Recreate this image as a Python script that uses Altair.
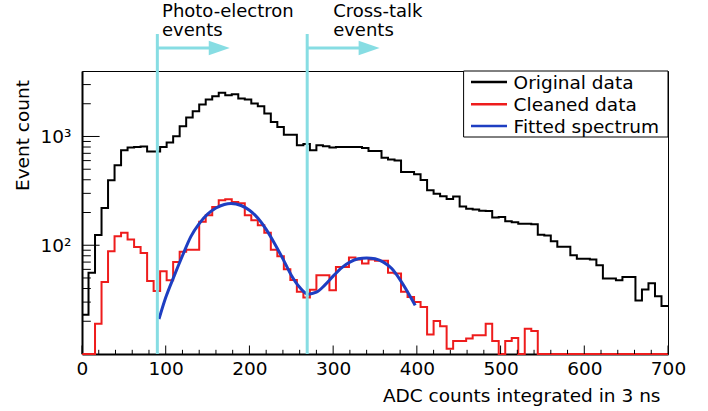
import altair as alt
import pandas as pd

# ---------------- data ----------------
X_MIN, X_MAX, N_BINS = 0, 700, 90
Y_MIN, Y_MAX = 10, 4000

original = [
    23, 56, 124, 220, 396, 545, 748, 792, 802, 809,
    728, 728, 802, 880, 1006, 1240, 1495, 1709, 1970, 2190,
    2348, 2518, 2399, 2450, 2237, 2190, 2012, 1900, 1628, 1362,
    1225, 1040, 1040, 832, 855, 748, 832, 814, 792, 802,
    802, 802, 802, 785, 737, 737, 638, 614, 600, 472,
    472, 450, 397, 321, 298, 282, 266, 280, 227, 216,
    213, 208, 206, 180, 182, 166, 163, 158, 158, 156,
    125, 123, 109, 97, 97, 81, 75, 75, 74, 65.5,
    49.4, 49.4, 47.6, 51.1, 51.1, 31, 39.1, 44.7, 34, 27.7,
]

cleaned = [
    0, 0, 19, 46, 88, 121, 130, 113, 96.5, 85,
    47, 38, 57.7, 47.7, 70, 87, 91, 91, 164, 189,
    225, 259, 265, 250, 243, 189, 170, 153, 130, 91,
    79, 60, 48, 37.4, 33, 39, 53, 53, 38.6, 63,
    63, 77, 74, 68, 74, 72, 72, 56, 55, 37.4,
    33.5, 30, 27, 15.1, 20.1, 18, 11.2, 13.2, 13.2, 13.9,
    14.9, 14.9, 19, 13.2, 0, 13.2, 14, 0, 17.1, 16.3,
    0, 0, 0, 0, 0, 0, 0, 0, 0, 0,
    0, 0, 0, 0, 0, 0, 0, 0, 0, 0,
]

fit_x = [92, 100, 110, 120, 130, 140, 150, 160, 170, 178, 190, 200, 210, 220,
         230, 240, 250, 260, 270, 280, 290, 300, 310, 320, 330, 340, 350, 360,
         370, 380, 390, 398]
fit_y = [21, 33, 52, 80, 120, 158, 193, 220, 237, 242, 232, 210, 178, 140,
         104, 75, 53, 41, 35.5, 37, 43, 52, 62, 70, 75, 76.5, 75, 70,
         61, 48, 36, 28]

cut_x = [90, 269]
arrow_tip = [176.5, 355.5]
ann_text = ["Photo-electron\nevents", "Cross-talk\nevents"]
ann_x = [95.6, 300]

legend_labels = ["Original data", "Cleaned data", "Fitted spectrum"]
legend_colors = ["#000000", "#ee1c1c", "#1e3ec2"]

x_title = "ADC counts integrated in 3 ns"
y_title = "Event count"

x_major = list(range(0, 701, 100))
x_minor = [v for v in range(20, 700, 20) if v % 100]
y_major = [100, 1000]
y_minor = [m * d for d in (10, 100, 1000) for m in range(2, 10) if m * d < Y_MAX]

# ---------------- styles / layout ----------------
W, H = 586, 283
FONT = "DejaVu Sans"
FS = 18.5
CYAN = "#87dde3"
BLACK, RED, BLUE = legend_colors

edges = [X_MIN + i * (X_MAX - X_MIN) / N_BINS for i in range(N_BINS + 1)]


def hist_df(values):
    vals = list(values) + [values[-1]]
    return pd.DataFrame({"x": edges, "y": [v if v > 0 else 1 for v in vals]})


xs = alt.Scale(domain=[X_MIN, X_MAX], nice=False, zero=False)
ys = alt.Scale(type="log", domain=[Y_MIN, Y_MAX], clamp=True, nice=False)

x_axis = alt.Axis(values=x_major, title=None, ticks=False, grid=False,
                  domain=True, domainColor="black", domainWidth=2,
                  labelFont=FONT, labelFontSize=FS, labelColor="black",
                  labelPadding=5, format="d", labelFlush=False)
y_axis = alt.Axis(values=y_major, title=None, ticks=False, grid=False,
                  domain=True, domainColor="black", domainWidth=2,
                  labelFont=FONT, labelFontSize=FS, labelColor="black",
                  labelPadding=11,
                  labelExpr="datum.value == 100 ? '10\u00b2' : '10\u00b3'")

X = lambda f="x": alt.X(f + ":Q", scale=xs, axis=x_axis)
Y = lambda f="y": alt.Y(f + ":Q", scale=ys, axis=y_axis)

black = alt.Chart(hist_df(original)).mark_line(
    interpolate="step-after", color=BLACK, strokeWidth=2
).encode(x=X(), y=Y())

red = alt.Chart(hist_df(cleaned)).mark_line(
    interpolate="step-after", color=RED, strokeWidth=2
).encode(x=X(), y=Y())

blue = alt.Chart(pd.DataFrame({"x": fit_x, "y": fit_y})).mark_line(
    interpolate="monotone", color=BLUE, strokeWidth=3
).encode(x=X(), y=Y())

# inward ticks
xt_major = alt.Chart(pd.DataFrame({"x": x_major})).mark_rule(color="black", strokeWidth=1).encode(
    x=X(), y=alt.value(H), y2=alt.value(H - 8.5))
xt_minor = alt.Chart(pd.DataFrame({"x": x_minor})).mark_rule(color="black", strokeWidth=1).encode(
    x=X(), y=alt.value(H), y2=alt.value(H - 4.2))
yt_major = alt.Chart(pd.DataFrame({"y": y_major})).mark_rule(color="black", strokeWidth=1).encode(
    y=Y(), x=alt.value(0), x2=alt.value(17.6))
yt_minor = alt.Chart(pd.DataFrame({"y": y_minor})).mark_rule(color="black", strokeWidth=1).encode(
    y=Y(), x=alt.value(0), x2=alt.value(8.8))

# cut lines and arrows
cuts = alt.Chart(pd.DataFrame({"x": cut_x})).mark_rule(color=CYAN, strokeWidth=3).encode(
    x=X(), y=alt.value(-37), y2=alt.value(H))
shafts = alt.Chart(pd.DataFrame({"x": cut_x, "x2": [t - 12 for t in arrow_tip]})).mark_rule(
    color=CYAN, strokeWidth=3
).encode(x=X(), x2="x2:Q", y=alt.value(-23))
heads = alt.Chart(pd.DataFrame({"x": arrow_tip})).mark_point(
    shape="M-2,-0.7L0,0L-2,0.7Z", size=441, filled=True, color=CYAN, opacity=1, strokeWidth=0
).encode(x=X(), y=alt.value(-23))

ann = alt.Chart(pd.DataFrame({"x": ann_x, "t": ann_text})).mark_text(
    align="left", baseline="alphabetic", font=FONT, fontSize=18, color="black",
    lineBreak="\n", lineHeight=19.5
).encode(x=X(), y=alt.value(-54.5), text="t:N")

# axis titles
xtitle = alt.Chart(pd.DataFrame({"t": [x_title]})).mark_text(
    align="right", baseline="alphabetic", font=FONT, fontSize=FS, color="black"
).encode(x=alt.value(578.5), y=alt.value(331), text="t:N")
ytitle = alt.Chart(pd.DataFrame({"t": [y_title]})).mark_text(
    align="center", baseline="alphabetic", font=FONT, fontSize=FS, color="black", angle=270
).encode(x=alt.value(-53.5), y=alt.value(64.5), text="t:N")

# legend
leg_layers = [
    alt.Chart(pd.DataFrame({"a": [0]})).mark_rect(fill="white", stroke="black", strokeWidth=1).encode(
        x=alt.value(381.6), x2=alt.value(W), y=alt.value(0), y2=alt.value(66))
]
row_y = [11, 33.3, 55]
for lab, col, ry in zip(legend_labels, legend_colors, row_y):
    leg_layers.append(
        alt.Chart(pd.DataFrame({"t": [lab]})).mark_rule(color=col, strokeWidth=2.5).encode(
            x=alt.value(389), x2=alt.value(425), y=alt.value(ry)))
    leg_layers.append(
        alt.Chart(pd.DataFrame({"t": [lab]})).mark_text(
            align="left", baseline="middle", font=FONT, fontSize=FS, color="black"
        ).encode(x=alt.value(431.6), y=alt.value(ry + 1), text="t:N"))

chart = alt.layer(
    black, red, blue, xt_major, xt_minor, yt_major, yt_minor,
    cuts, shafts, heads, ann, xtitle, ytitle, *leg_layers
).properties(
    width=W, height=H,
    autosize=alt.AutoSizeParams(type="none"),
    padding={"left": 82, "top": 71, "right": 40, "bottom": 57},
    background="white",
).configure_view(stroke="black", strokeWidth=1)

chart.save("out.html", embed_options={"renderer": "svg", "actions": False})
